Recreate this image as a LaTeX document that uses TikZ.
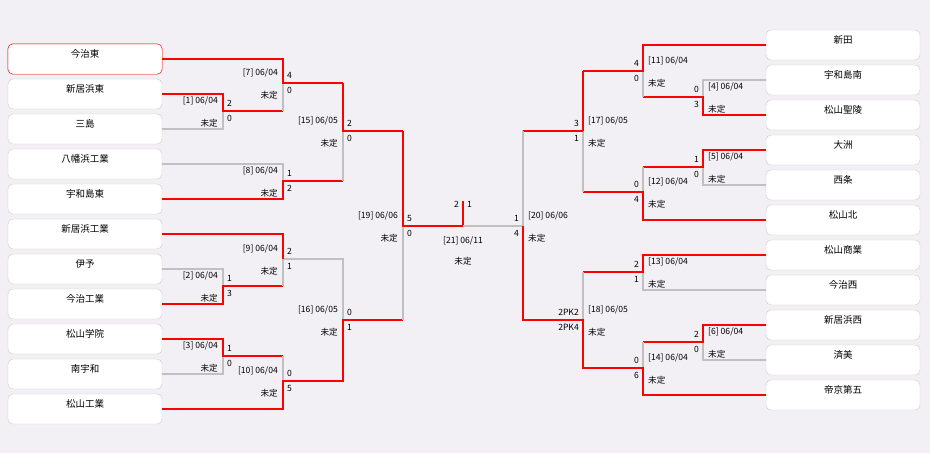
\documentclass[tikz,border=0pt]{standalone}
\usepackage{fontspec}
\setmainfont{Liberation Sans}
\newfontfamily\jp{Noto Sans CJK JP}
\definecolor{bg}{HTML}{F2F0F4}
\definecolor{lose}{HTML}{C0C0C0}
\definecolor{boxline}{HTML}{CCCCCC}
\tikzset{
  team/.style={draw=boxline,fill=white,rounded corners=5pt,minimum width=154pt,minimum height=30pt,inner sep=0pt},
  won/.style={draw=red,line width=1.6pt},
  lost/.style={draw=lose,line width=1.6pt},
  info/.style={font=\jp\fontsize{8.6}{9}\selectfont,inner sep=0pt}
}
% left / right match labels: x, y, game, top score, bottom score
\def\LB#1#2#3#4#5{\node[info,anchor=east] at (#1-5,#2-10) {#3};
  \node[info,anchor=east] at (#1-5,#2+12) {未定};
  \node[info,anchor=west] at (#1+4,#2-8) {#4};
  \node[info,anchor=west] at (#1+4,#2+7) {#5};}
\def\RB#1#2#3#4#5{\node[info,anchor=west] at (#1+5,#2-10) {#3};
  \node[info,anchor=west] at (#1+5,#2+12) {未定};
  \node[info,anchor=east] at (#1-4,#2-8) {#4};
  \node[info,anchor=east] at (#1-4,#2+7) {#5};}
\begin{document}
\begin{tikzpicture}[x=1pt,y=-1pt]
\fill[bg] (0,0) rectangle (930,453);
\useasboundingbox (0,0) rectangle (930,453);
% teams
\foreach \n [count=\i] in {今治東,新居浜東,三島,八幡浜工業,宇和島東,新居浜工業,伊予,今治工業,松山学院,南宇和,松山工業}
  \node[team,label={[font=\jp\fontsize{9.5}{10}\selectfont,below=2pt]north:\n}] (L\i) at (85,44+35*\i-20) {};
\foreach \n [count=\i] in {新田,宇和島南,松山聖陵,大洲,西条,松山北,松山商業,今治西,新居浜西,済美,帝京第五}
  \node[team,label={[font=\jp\fontsize{9.5}{10}\selectfont,below=2pt]north:\n}] (R\i) at (843,30+35*\i-20) {};
\draw[red,rounded corners=5pt] (L1.south west) rectangle (L1.north east);
% left half
\draw[lost] (L3.east) -| (223,111);
\draw[won] (L2.east) -| (223,111) -- (283,111);
\draw[lost] (283,111) -- (283,83);
\draw[won] (L1.east) -| (283,83) -- (343,83);
\draw[lost] (L4.east) -| (283,181);
\draw[won] (L5.east) -| (283,181) -- (343,181);
\draw[lost] (343,181) -- (343,131);
\draw[won] (343,83) -- (343,131) -- (403,131);
\draw[lost] (L7.east) -| (223,286);
\draw[won] (L8.east) -| (223,286) -- (283,286);
\draw[lost] (283,286) -- (283,259) -- (343,259) -- (343,320);
\draw[won] (L6.east) -| (283,259);
\draw[lost] (L10.east) -| (223,356);
\draw[won] (L9.east) -| (223,356) -- (283,356);
\draw[lost] (283,356) -- (283,381);
\draw[won] (L11.east) -| (283,381) -- (343,381) -- (343,320) -- (403,320);
\draw[lost] (403,320) -- (403,226);
\draw[won] (403,131) -- (403,226) -- (463,226) -- (463,201);
\draw[lost] (463,226) -- (523,226);
% right half
\draw[lost] (R2.west) -| (703,97);
\draw[won] (R3.west) -| (703,97) -- (643,97);
\draw[lost] (643,97) -- (643,71);
\draw[won] (R1.west) -| (643,71) -- (583,71);
\draw[lost] (R5.west) -| (703,167);
\draw[won] (R4.west) -| (703,167) -- (643,167);
\draw[lost] (643,167) -- (643,192);
\draw[won] (R6.west) -| (643,192) -- (583,192);
\draw[lost] (583,192) -- (583,131) -- (523,131) -- (523,226);
\draw[won] (583,71) -- (583,131);
\draw[lost] (R8.west) -| (643,272);
\draw[won] (R7.west) -| (643,272) -- (583,272);
\draw[lost] (583,272) -- (583,320);
\draw[lost] (R10.west) -| (703,342);
\draw[won] (R9.west) -| (703,342) -- (643,342);
\draw[lost] (643,342) -- (643,368);
\draw[won] (R11.west) -| (643,368) -- (583,368) -- (583,320) -- (523,320) -- (523,226);
\draw[won] (583,131) -- (523,131);
\draw[lost] (523,131) -- (523,226);
% labels
\LB{223}{111}{[1] 06/04}{2}{0}
\LB{283}{83}{[7] 06/04}{4}{0}
\LB{283}{181}{[8] 06/04}{1}{2}
\LB{343}{131}{[15] 06/05}{2}{0}
\LB{223}{286}{[2] 06/04}{1}{3}
\LB{283}{259}{[9] 06/04}{2}{1}
\LB{223}{356}{[3] 06/04}{1}{0}
\LB{283}{381}{[10] 06/04}{0}{5}
\LB{343}{320}{[16] 06/05}{0}{1}
\LB{403}{226}{[19] 06/06}{5}{0}
\RB{703}{97}{[4] 06/04}{0}{3}
\RB{643}{71}{[11] 06/04}{4}{0}
\RB{703}{167}{[5] 06/04}{1}{0}
\RB{643}{192}{[12] 06/04}{0}{4}
\RB{583}{131}{[17] 06/05}{3}{1}
\RB{643}{272}{[13] 06/04}{2}{1}
\RB{703}{342}{[6] 06/04}{2}{0}
\RB{643}{368}{[14] 06/04}{0}{6}
\RB{583}{320}{[18] 06/05}{2PK2}{2PK4}
\RB{523}{226}{[20] 06/06}{1}{4}
\node[info,anchor=east] at (459,204) {2};
\node[info,anchor=west] at (467,204) {1};
\node[info] at (463,241) {[21] 06/11};
\node[info] at (463,261) {未定};
\end{tikzpicture}
\end{document}
